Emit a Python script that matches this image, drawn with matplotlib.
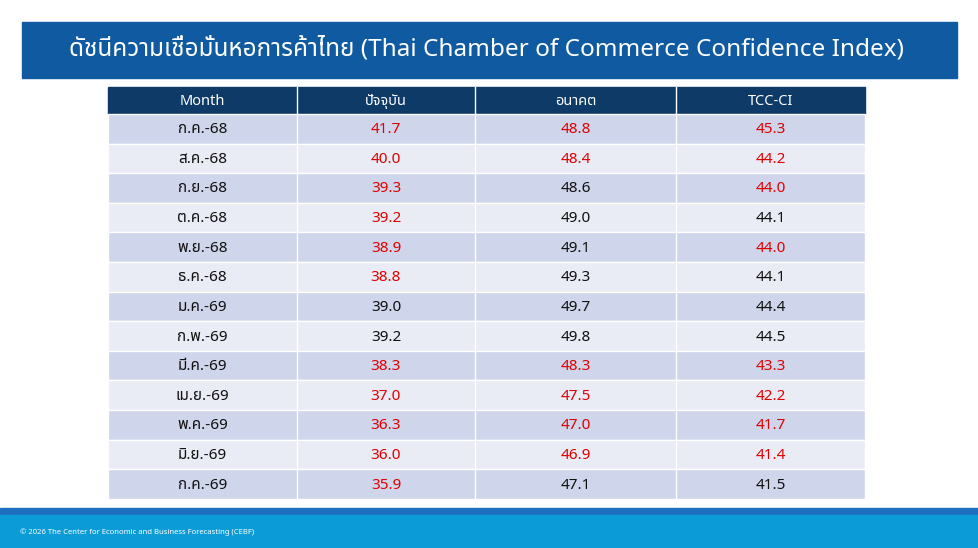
import matplotlib
matplotlib.use("Agg")
import matplotlib.pyplot as plt
from matplotlib.patches import Rectangle
from matplotlib import font_manager as fm

fams = [f.name for f in fm.fontManager.ttflist]
thai = [n for n in ["Noto Sans Thai", "Noto Sans Thai UI", "Loma", "Garuda", "Tlwg Typo", "Noto Sans"] if n in fams]
FAM = thai + ["DejaVu Sans"]
plt.rcParams['font.family'] = FAM

title = "ดัชนีความเชื่อมั่นหอการค้าไทย (Thai Chamber of Commerce Confidence Index)"
columns = ["Month", "ปัจจุบัน", "อนาคต", "TCC-CI"]
months = ["ก.ค.-68", "ส.ค.-68", "ก.ย.-68", "ต.ค.-68", "พ.ย.-68", "ธ.ค.-68", "ม.ค.-69",
          "ก.พ.-69", "มี.ค.-69", "เม.ย.-69", "พ.ค.-69", "มิ.ย.-69", "ก.ค.-69"]
current = [41.7, 40.0, 39.3, 39.2, 38.9, 38.8, 39.0, 39.2, 38.3, 37.0, 36.3, 36.0, 35.9]
future = [48.8, 48.4, 48.6, 49.0, 49.1, 49.3, 49.7, 49.8, 48.3, 47.5, 47.0, 46.9, 47.1]
tcc = [45.3, 44.2, 44.0, 44.1, 44.0, 44.1, 44.4, 44.5, 43.3, 42.2, 41.7, 41.4, 41.5]
red_current = [1,1,1,1,1,1,0,0,1,1,1,1,1]
red_future = [1,1,0,0,0,0,0,0,1,1,1,1,0]
red_tcc = [1,1,1,0,1,0,0,0,1,1,1,1,0]
footer = "© 2026 The Center for Economic and Business Forecasting (CEBF)"

W, H = 979, 548
fig = plt.figure(figsize=(W/100, H/100), dpi=100)
ax = fig.add_axes([0, 0, 1, 1])
ax.set_xlim(0, W); ax.set_ylim(H, 0); ax.axis('off')

ax.add_patch(Rectangle((22, 22), 935, 56, color="#0f5aa0"))
ax.text(486, 49, title, color="white", fontsize=17.5, ha="center", va="center")

xs = [108, 297, 475, 676, 865]
top, hh, rh = 87, 27, 29.6
ax.add_patch(Rectangle((xs[0], top), xs[-1]-xs[0], hh, color="#0d3a66"))
for i, c in enumerate(columns):
    ax.text((xs[i]+xs[i+1])/2, top+hh/2+1, c, color="white", fontsize=10.5,
            ha="center", va="center", fontweight="bold")
for j in range(len(xs)-2):
    ax.plot([xs[j+1]]*2, [top, top+hh], color="white", lw=1)
RED, BLK = "#e00000", "#111111"
for r, m in enumerate(months):
    y0 = top + hh + r*rh
    ax.add_patch(Rectangle((xs[0], y0), xs[-1]-xs[0], rh,
                           facecolor="#cfd5ea" if r % 2 == 0 else "#e9ebf5", edgecolor="white", lw=1))
    for j in range(1, 4):
        ax.plot([xs[j]]*2, [y0, y0+rh], color="white", lw=1)
    yc = y0 + rh/2 + 1
    ax.text((xs[0]+xs[1])/2, yc, m, color=BLK, fontsize=11, ha="center", va="center")
    for k, (vals, reds) in enumerate([(current, red_current), (future, red_future), (tcc, red_tcc)]):
        ax.text((xs[k+1]+xs[k+2])/2, yc, f"{vals[r]:.1f}", color=RED if reds[r] else BLK,
                fontsize=11, ha="center", va="center")

ax.add_patch(Rectangle((0, 508), W, 7, color="#1e6fc0"))
ax.add_patch(Rectangle((0, 515), W, 33, color="#0b9cd8"))
ax.text(20, 532, footer, color="white", fontsize=5.5, ha="left", va="center")

fig.savefig("out.png", dpi=100)
